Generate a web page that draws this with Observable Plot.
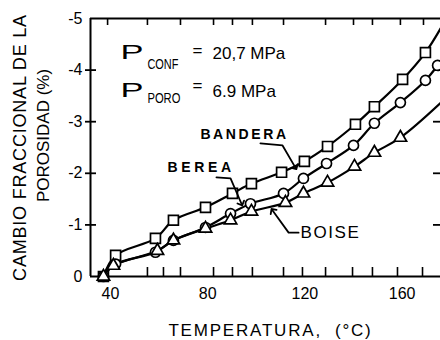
<!DOCTYPE html>
<html><head><meta charset="utf-8">
<script src="https://cdn.jsdelivr.net/npm/d3@7"></script>
<script src="https://cdn.jsdelivr.net/npm/@observablehq/plot@0.6"></script>
<style>body{margin:0;background:#fff} svg{display:block}</style>
</head><body><div id="chart"></div>
<script>
// ---- data ----
const seriesNames = ["BANDERA", "BEREA", "BOISE"];
const banderaT = [37.1, 42.1, 58.5, 65.9, 79.1, 90.2, 98.0, 110.4, 119.8, 129.3, 140.8, 148.6, 160.2, 169.6];
const banderaV = [0.0, -0.41, -0.74, -1.09, -1.34, -1.61, -1.80, -2.02, -2.23, -2.52, -2.95, -3.29, -3.82, -4.34];
const bereaT = [37.1, 42.1, 58.5, 65.9, 79.1, 89.4, 97.6, 111.2, 119.4, 128.9, 140.0, 148.6, 159.3, 169.6, 174.6];
const bereaV = [0.0, -0.24, -0.47, -0.70, -0.95, -1.22, -1.41, -1.61, -1.90, -2.19, -2.54, -2.97, -3.37, -3.80, -4.09];
const boiseT = [37.1, 41.2, 59.3, 65.9, 79.1, 89.4, 98.0, 112.0, 119.4, 129.3, 140.4, 148.6, 159.3];
const boiseV = [0.0, -0.21, -0.50, -0.70, -0.93, -1.09, -1.26, -1.43, -1.61, -1.82, -2.13, -2.40, -2.69];
const lineEndT = [176.5, 176.5, 176.5];
const lineEndV = [-4.86, -4.22, -3.39];

const xTicks = [40, 80, 120, 160];
const yTicks = [0, -1, -2, -3, -4, -5];
const topTickT = [38.8, 55.2, 68.8, 82.4, 90.2, 98.4, 111.2, 128.5, 140.0, 147.8, 159.3, 168.8];
const bottomTickT = [55.2, 61.8, 68.8, 82.4, 90.2, 98.4, 111.2, 119.0, 128.5, 139.6, 147.8, 158.1, 168.4];
const rightTickV = [-1, -2, -3, -4];

const labelT = [77.0, 63.5, 118.2];
const labelV = [-2.75, -2.11, -0.85];
const leaderT = [[101.7, 110.8, 116.1], [83.6, 89.4, 93.9], [117.4, 113.3, 106.7]];
const leaderV = [[-2.58, -2.54, -2.11], [-1.92, -1.90, -1.41], [-0.85, -0.85, -1.28]];

const pressSub = ["CONF", "PORO"];
const pressValue = ["20,7 MPa", "6.9 MPa"];
const pressRowV = [-4.22, -3.47];
const pressSubV = [-4.03, -3.37];
const pressEqV = [-4.38, -3.70];
const pressT = {P: 44.1, sub: 55.2, eq: 75.8, val: 82.0};

const xLabel = "TEMPERATURA,  (°C)";
const yLabel1 = "CAMBIO FRACCIONAL DE LA";
const yLabel2 = "POROSIDAD (%)";

// ---- build tables ----
const seriesT = [banderaT, bereaT, boiseT];
const seriesV = [banderaV, bereaV, boiseV];
const dotsOf = i => seriesT[i].map((t, j) => ({T: t, V: seriesV[i][j], name: seriesNames[i]}));
const linePts = seriesNames.flatMap((n, i) => [...dotsOf(i), {T: lineEndT[i], V: lineEndV[i], name: n}]);
const leaders = seriesNames.flatMap((n, i) => leaderT[i].map((t, j) => ({T: t, V: leaderV[i][j], name: n})));
const labels = seriesNames.map((n, i) => ({T: labelT[i], V: labelV[i], text: n}));
const pRows = pressSub.map((s, i) => ({sub: s, val: pressValue[i], V: pressRowV[i], subV: pressSubV[i], eqV: pressEqV[i]}));

const X0 = 31.77, X1 = 175.8;
const pxX = 1 / 2.43, pxY = 1 / 51.6;
const FONT = "'Liberation Sans', Arial, sans-serif";

const plot = Plot.plot({
  width: 440, height: 340,
  marginTop: 18, marginBottom: 64, marginLeft: 90, marginRight: 0,
  style: {fontFamily: FONT, fontSize: "16px", background: "#fff", color: "#000"},
  x: {domain: [X0, X1], ticks: xTicks, tickSize: 0, tickPadding: 11, label: null},
  y: {domain: [0, -5], ticks: yTicks, tickSize: 0, tickPadding: 8, label: null,
      tickFormat: d => d === 0 ? "0" : "-" + Math.abs(d)},
  marks: [
    Plot.ruleY([-5, 0], {stroke: "#000", strokeWidth: 2}),
    Plot.ruleX([X0], {y1: 0, y2: -5, stroke: "#000", strokeWidth: 2}),
    Plot.ruleY(yTicks.slice(1, 5), {x1: X0 - 5 * pxX, x2: X0 + 6 * pxX, stroke: "#000", strokeWidth: 1.8}),
    Plot.ruleY(rightTickV, {x1: X1 - 7 * pxX, x2: X1, stroke: "#000", strokeWidth: 1.8}),
    Plot.ruleX(topTickT, {y1: -5, y2: -5 + 7 * pxY, stroke: "#000", strokeWidth: 1.6}),
    Plot.ruleX(bottomTickT, {y1: 0, y2: -9 * pxY, stroke: "#000", strokeWidth: 1.6}),
    Plot.line(linePts, {x: "T", y: "V", z: "name", curve: "catmull-rom", stroke: "#000", strokeWidth: 2.2}),
    Plot.dot(dotsOf(0), {x: "T", y: "V", symbol: "square", r: 5.6, fill: "#fff", stroke: "#000", strokeWidth: 1.7}),
    Plot.dot(dotsOf(1), {x: "T", y: "V", symbol: "circle", r: 5, fill: "#fff", stroke: "#000", strokeWidth: 1.7}),
    Plot.dot(dotsOf(2), {x: "T", y: "V", symbol: "triangle", r: 4.6, fill: "#fff", stroke: "#000", strokeWidth: 1.7}),
    Plot.line(leaders, {x: "T", y: "V", z: "name", stroke: "#000", strokeWidth: 1.8, markerEnd: "arrow"}),
    Plot.text(labels.slice(0, 2), {x: "T", y: "V", text: "text", textAnchor: "start", lineAnchor: "middle", fontSize: 14, fontWeight: "bold", fill: "#000"}),
    Plot.text(labels.slice(2), {x: "T", y: "V", text: "text", textAnchor: "start", lineAnchor: "middle", fontSize: 17, fill: "#000"}),
    Plot.text(pRows, {x: () => pressT.P, y: "V", text: () => "P", textAnchor: "start", lineAnchor: "bottom", fontSize: 21, fill: "#000"}),
    Plot.text(pRows, {x: () => pressT.sub, y: "subV", text: "sub", textAnchor: "start", lineAnchor: "bottom", fontSize: 14, fill: "#000"}),
    Plot.text(pRows, {x: () => pressT.eq, y: "eqV", text: () => "=", textAnchor: "middle", lineAnchor: "middle", fontSize: 17, fill: "#000"}),
    Plot.text(pRows, {x: () => pressT.val, y: "V", text: "val", textAnchor: "start", lineAnchor: "bottom", fontSize: 17, fill: "#000"}),
    Plot.text([yLabel1], {frameAnchor: "left", dx: -70, rotate: -90, textAnchor: "middle", lineAnchor: "middle", fontSize: 18, fill: "#000"}),
    Plot.text([yLabel2], {frameAnchor: "left", dx: -47, dy: -12, rotate: -90, textAnchor: "middle", lineAnchor: "middle", fontSize: 17, fill: "#000"}),
    Plot.text([xLabel], {frameAnchor: "bottom", dx: 5, dy: 54, textAnchor: "middle", lineAnchor: "middle", fontSize: 17, fill: "#000"})
  ]
});
document.getElementById("chart").appendChild(plot);

// glyph stretching / letter spacing for the hand-lettered look
const svg = d3.select(plot);
svg.selectAll("text").each(function () {
  const t = this.textContent, s = d3.select(this);
  if (t === "P") s.attr("textLength", 23).attr("lengthAdjust", "spacingAndGlyphs");
  else if (t === "CONF") s.attr("textLength", 31).attr("lengthAdjust", "spacingAndGlyphs");
  else if (t === "PORO") s.attr("textLength", 33).attr("lengthAdjust", "spacingAndGlyphs");
  else if (t === "BANDERA") s.attr("letter-spacing", 2.6);
  else if (t === "BEREA") s.attr("letter-spacing", 3.6);
  else if (t === "BOISE") s.attr("letter-spacing", 1.6);
  else if (t === xLabel) s.attr("letter-spacing", 1.8);
  else if (t === yLabel1) s.attr("letter-spacing", 0.8);
});
</script>
</body></html>
